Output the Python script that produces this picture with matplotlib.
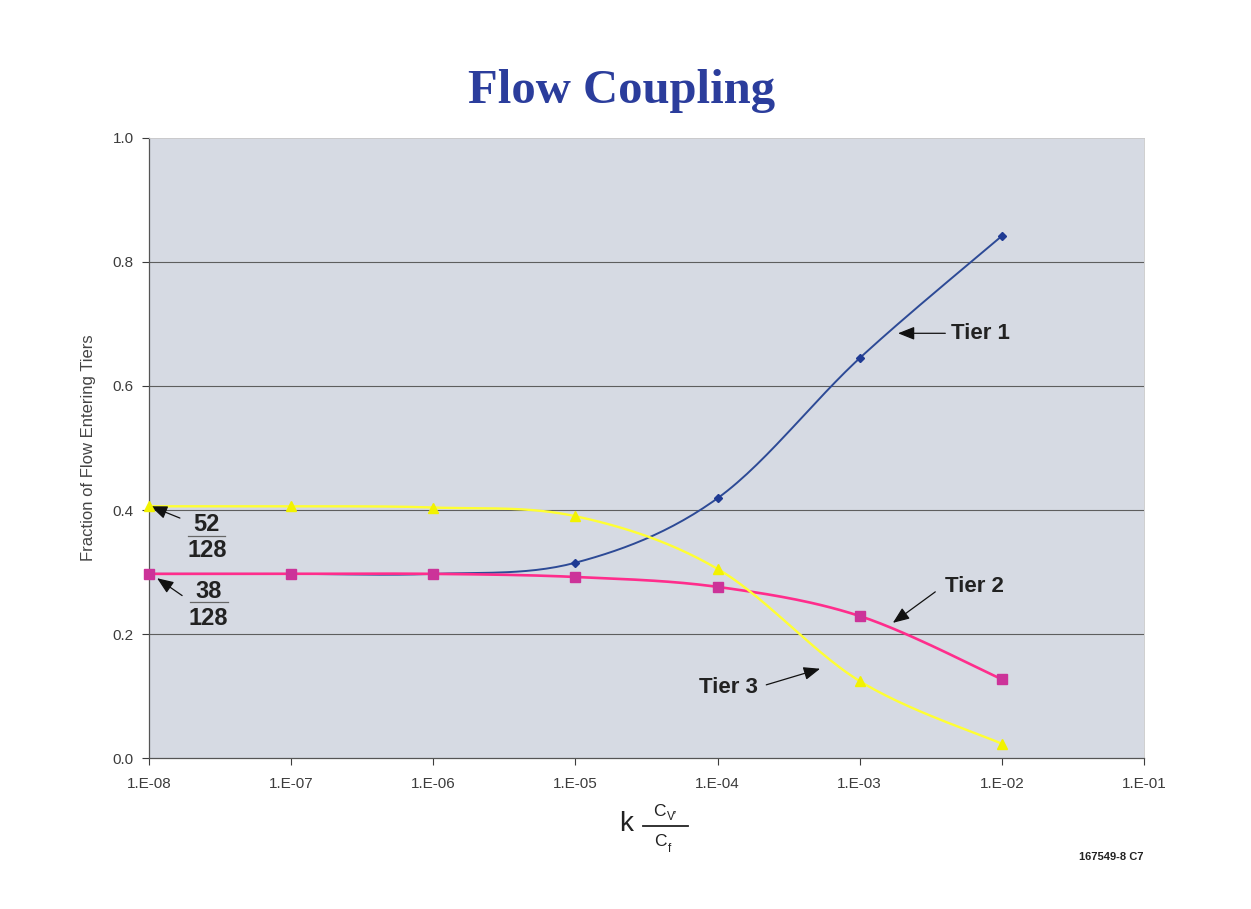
import numpy as np
import matplotlib.pyplot as plt

plt.rcParams["font.family"] = ["Liberation Sans", "DejaVu Sans"]

# data
k_ratio = [1e-8, 1e-7, 1e-6, 1e-5, 1e-4, 1e-3, 1e-2]
tier1 = [0.297, 0.297, 0.297, 0.315, 0.419, 0.645, 0.842]
tier2 = [0.297, 0.297, 0.297, 0.292, 0.276, 0.229, 0.127]
tier3 = [0.406, 0.406, 0.404, 0.390, 0.305, 0.124, 0.023]
y_ticks = [0.0, 0.2, 0.4, 0.6, 0.8, 1.0]
x_ticks = [1e-8, 1e-7, 1e-6, 1e-5, 1e-4, 1e-3, 1e-2, 1e-1]
x_tick_labels = ["1.E-08", "1.E-07", "1.E-06", "1.E-05", "1.E-04", "1.E-03", "1.E-02", "1.E-01"]


def smooth(xs, ys, n=30):
    # Excel style smoothed line: Catmull-Rom bezier in log-x space
    u = np.log10(xs)
    y = np.asarray(ys, dtype=float)
    pu, py = [], []
    for i in range(len(u) - 1):
        i0 = max(i - 1, 0)
        i3 = min(i + 2, len(u) - 1)
        p0 = np.array([u[i], y[i]])
        p3 = np.array([u[i + 1], y[i + 1]])
        p1 = p0 + (np.array([u[i + 1], y[i + 1]]) - np.array([u[i0], y[i0]])) / 6
        p2 = p3 - (np.array([u[i3], y[i3]]) - np.array([u[i], y[i]])) / 6
        t = np.linspace(0, 1, n)[:, None]
        seg = ((1 - t) ** 3 * p0 + 3 * (1 - t) ** 2 * t * p1
               + 3 * (1 - t) * t ** 2 * p2 + t ** 3 * p3)
        pu.extend(seg[:, 0])
        py.extend(seg[:, 1])
    return 10 ** np.array(pu), np.array(py)


fig = plt.figure(figsize=(12.51, 9.09), dpi=100)
ax = fig.add_axes([0.1191, 0.1661, 0.7954, 0.6821])
ax.set_facecolor("#d6dae3")

ax.set_xscale("log")
ax.set_xlim(1e-8, 1e-1)
ax.set_ylim(0, 1.0)

for yv in y_ticks[1:-1]:
    ax.axhline(yv, color="#5e5e5e", lw=0.8, zorder=1)

series = [
    (tier1, "#2d4a96", "#1f3a93", "D", 4.5, 1.4),
    (tier2, "#ff2d8c", "#cc3399", "s", 7, 1.9),
    (tier3, "#ffff33", "#f2f200", "^", 6.5, 1.7),
]
for vals, lc, mc, mk, ms, lw in series:
    sx, sy = smooth(k_ratio, vals)
    ax.plot(sx, sy, color=lc, lw=lw, zorder=3)
    ax.plot(k_ratio, vals, linestyle="none", marker=mk, ms=ms,
            color=mc, markeredgecolor=mc, zorder=4, clip_on=False)

ax.set_xticks(x_ticks)
ax.set_xticklabels(x_tick_labels)
ax.xaxis.set_minor_locator(plt.NullLocator())
ax.set_yticks(y_ticks)
ax.set_yticklabels([f"{v:.1f}" for v in y_ticks])
ax.tick_params(axis="both", labelsize=11, colors="#3c3c3c", length=5,
               width=0.8, direction="out", pad=6)
ax.tick_params(axis="x", pad=9)

for side in ["top", "right"]:
    ax.spines[side].set_color("#c8c8c8")
    ax.spines[side].set_linewidth(0.6)
for side in ["left", "bottom"]:
    ax.spines[side].set_color("#555555")
    ax.spines[side].set_linewidth(0.9)

ax.set_ylabel("Fraction of Flow Entering Tiers", fontsize=12, color="#444444", labelpad=12)

fig.text(0.497, 0.900, "Flow Coupling", ha="center", va="center",
         fontsize=35, fontweight="bold", family="Liberation Serif", color="#2b3d9c")

# x-axis label: k * Cv'/Cf, built from pieces
W, H = 1251, 909
fig.text(626 / W, 1 - 824 / H, "k", ha="center", va="center", fontsize=20, color="#222222")
fig.text(659 / W, 1 - 811 / H, "C", ha="center", va="center", fontsize=12.5, color="#222222")
fig.text(667 / W, 1 - 817 / H, "V\u2032", ha="left", va="center", fontsize=8.5, color="#222222")
fig.add_artist(plt.Line2D([643 / W, 688 / W], [1 - 826 / H, 1 - 826 / H],
                          color="#222222", lw=1.3))
fig.text(660 / W, 1 - 841 / H, "C", ha="center", va="center", fontsize=12.5, color="#222222")
fig.text(668 / W, 1 - 849 / H, "f", ha="left", va="center", fontsize=8.5, color="#222222")

fig.text(0.914, 0.057, "167549-8 C7", ha="right", va="center",
         fontsize=8, fontweight="bold", color="#222222")

arrow = dict(arrowstyle="-|>,head_length=1.0,head_width=0.4", color="#111111", lw=0.9,
             shrinkA=0, shrinkB=0)
lab = dict(fontsize=16, fontweight="bold", color="#222222", va="center")
frac = dict(fontsize=17, fontweight="bold", color="#222222", va="center", ha="center")

ax.annotate("", xy=(1.86e-3, 0.685), xytext=(4.0e-3, 0.685), arrowprops=arrow)
ax.text(4.4e-3, 0.685, "Tier 1", ha="left", **lab)

ax.annotate("", xy=(1.71e-3, 0.218), xytext=(3.4e-3, 0.268), arrowprops=arrow)
ax.text(4.0e-3, 0.277, "Tier 2", ha="left", **lab)

ax.annotate("", xy=(5.26e-4, 0.144), xytext=(2.2e-4, 0.118), arrowprops=arrow)
ax.text(1.93e-4, 0.113, "Tier 3", ha="right", **lab)

ax.annotate("", xy=(1.03e-8, 0.406), xytext=(1.65e-8, 0.387), arrowprops=arrow)
ax.text(2.55e-8, 0.377, "52", **frac)
ax.plot([1.88e-8, 3.4e-8], [0.358, 0.358], color="#666666", lw=0.9)
ax.text(2.55e-8, 0.334, "128", **frac)

ax.annotate("", xy=(1.14e-8, 0.290), xytext=(1.71e-8, 0.262), arrowprops=arrow)
ax.text(2.62e-8, 0.269, "38", **frac)
ax.plot([1.94e-8, 3.6e-8], [0.251, 0.251], color="#666666", lw=0.9)
ax.text(2.62e-8, 0.225, "128", **frac)

fig.savefig("out.png", dpi=100, facecolor="white")
